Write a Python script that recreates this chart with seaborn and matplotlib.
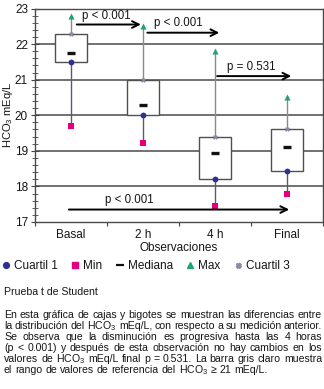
import matplotlib
matplotlib.use("Agg")
import matplotlib.pyplot as plt
from matplotlib.lines import Line2D
from matplotlib.ticker import MultipleLocator, FixedLocator, NullFormatter
import seaborn as sns
import numpy as np

# ---------------- data ----------------
categories = ["Basal", "2 h", "4 h", "Final"]
q1_vals = [21.5, 20.0, 18.22, 18.42]
q3_vals = [22.27, 21.0, 19.4, 19.6]
median_vals = [21.75, 20.3, 18.95, 19.12]
min_vals = [19.7, 19.21, 17.46, 17.8]
max_vals = [22.8, 22.52, 21.8, 20.5]

# comparisons: (start category, end category, label)
comparisons = [("Basal", "2 h", "p < 0.001"),
               ("2 h", "4 h", "p < 0.001"),
               ("4 h", "Final", "p = 0.531"),
               ("Basal", "Final", "p < 0.001")]

legend_labels = ["Cuartil 1", "Min", "Mediana", "Max", "Cuartil 3"]
paragraph_lines = [
    "En esta gráfica de cajas y bigotes se muestran las diferencias entre",
    "la distribución del HCO$_3$ mEq/L, con respecto a su medición anterior.",
    "Se observa que la disminución es progresiva hasta las 4 horas",
    "(p < 0.001) y después de esta observación no hay cambios en los",
    "valores de HCO$_3$ mEq/L final p = 0.531. La barra gris claro muestra",
    "el rango de valores de referencia del HCO$_3$ ≥ 21 mEq/L.",
]
note_text = "Prueba t de Student"

# ---------------- style ----------------
sns.set_theme(style="white")
plt.rcParams["font.family"] = ["Liberation Sans", "DejaVu Sans"]
plt.rcParams["mathtext.fontset"] = "custom"
plt.rcParams["mathtext.rm"] = "Liberation Sans"
plt.rcParams["mathtext.it"] = "Liberation Sans:italic"
plt.rcParams["mathtext.bf"] = "Liberation Sans:bold"
plt.rcParams["mathtext.default"] = "regular"

c_q1 = "#2e3192"
c_min = "#e4007c"
c_max = "#1fa472"
c_q3 = "#8c8aa8"
c_med = "#111111"
c_txt = "#151515"

W, H = 324, 389
fig = plt.figure(figsize=(W / 100, H / 100), dpi=100)
ax = fig.add_axes([35 / W, 1 - 222 / H, 288 / W, (222 - 8.5) / H])

positions = np.arange(len(categories))

# horizontal reference lines
for v in [18, 19, 20, 21, 22]:
    ax.axhline(v, color="#4a4a4a", lw=1.1, zorder=0.5)

# boxes and whiskers from the summary arrays
stats = []
for i, c in enumerate(categories):
    stats.append(dict(label=c, med=median_vals[i], q1=q1_vals[i], q3=q3_vals[i],
                      whislo=min_vals[i], whishi=max_vals[i], fliers=[]))
bp = ax.bxp(stats, positions=positions, widths=0.44, patch_artist=True,
            showfliers=False, showcaps=False,
            boxprops=dict(facecolor="white", edgecolor="#505050", lw=1.0),
            whiskerprops=dict(color="#8a8a8a", lw=1.0),
            medianprops=dict(visible=False), zorder=2)
# lower whiskers slightly darker, as in the reference
for k, wl in enumerate(bp["whiskers"]):
    if k % 2 == 0:
        wl.set_color("#5c5870")

# markers via seaborn
def pts(vals, marker, color, size, lw=0):
    sns.stripplot(x=positions, y=vals, native_scale=True, jitter=False, ax=ax,
                  marker=marker, color=color, size=size, linewidth=lw,
                  edgecolor=color, zorder=4)

pts(q1_vals, "o", c_q1, 4.2)
pts(min_vals, "s", c_min, 3.8)
pts(max_vals, "^", c_max, 4.4)
pts(q3_vals, "X", c_q3, 3.4)
ax.plot(positions, median_vals, linestyle="none", marker="_", color=c_med,
        markersize=5.5, markeredgewidth=2.4, zorder=5)

# comparison arrows
arrow_y = [22.55, 22.32, 21.1, 17.35]
text_y = [22.8, 22.58, 21.37, 17.63]
arrow_x0 = [0.08, 1.06, 2.03, -0.03]
arrow_x1 = [0.97, 2.06, 3.06, 3.03]
text_x = [0.49, 1.49, 2.51, 0.81]
for k, (a, b, lab) in enumerate(comparisons):
    ax.annotate("", xy=(arrow_x1[k], arrow_y[k]), xytext=(arrow_x0[k], arrow_y[k]),
                arrowprops=dict(arrowstyle="->", color="black", lw=1.4,
                                shrinkA=0, shrinkB=0, mutation_scale=12),
                zorder=6)
    ax.text(text_x[k], text_y[k], lab, ha="center", va="center", fontsize=8.3,
            color=c_txt, zorder=6)

# axes formatting
ax.set_xlim(-0.5, 3.5)
ax.set_ylim(17, 23)
ax.set_xticks(positions)
ax.set_xticklabels(categories, fontsize=8.5, color=c_txt)
ax.xaxis.set_minor_locator(FixedLocator([-0.5, 0.5, 1.5, 2.5, 3.5]))
ax.xaxis.set_minor_formatter(NullFormatter())
ax.tick_params(axis="x", which="major", length=0, pad=5)
ax.tick_params(axis="x", which="minor", direction="out", length=3, width=0.8,
               color="#444444", bottom=True)
ax.yaxis.set_major_locator(MultipleLocator(1))
ax.yaxis.set_minor_locator(MultipleLocator(0.2))
ax.tick_params(axis="y", which="major", direction="inout", length=6, width=0.8,
               color="#444444", labelsize=8.5, labelcolor=c_txt, left=True, pad=2)
ax.tick_params(axis="y", which="minor", direction="inout", length=4, width=0.6,
               color="#444444", left=True)
ax.set_ylabel("HCO$_3$ mEq/L", fontsize=8, color=c_txt)
ax.yaxis.set_label_coords(-19.5 / 288, 0.5)
ax.set_xlabel("Observaciones", fontsize=8.5, color=c_txt, labelpad=1)
for s in ax.spines.values():
    s.set_color("#4a4a4a")
    s.set_linewidth(1.0)
    s.set_visible(True)
ax.grid(False)

# legend
handles = [
    Line2D([], [], ls="none", marker="o", color=c_q1, markersize=4.2),
    Line2D([], [], ls="none", marker="s", color=c_min, markersize=4),
    Line2D([], [], ls="none", marker="_", color=c_med, markersize=6, markeredgewidth=1.6),
    Line2D([], [], ls="none", marker="^", color=c_max, markersize=4.6),
    Line2D([], [], ls="none", marker="X", color=c_q3, markersize=3.6),
]
fig.legend(handles, legend_labels, ncol=5, loc="center left",
           bbox_to_anchor=(0.005, 1 - 266 / H), frameon=False, fontsize=8.5,
           handlelength=0.7, handletextpad=0.35, columnspacing=1.1,
           borderpad=0, borderaxespad=0, labelcolor=c_txt)

# footnote texts
fs_par = 7.6
fig.text(4 / W, 1 - 292 / H, note_text, fontsize=fs_par, va="center", ha="left",
         color=c_txt)

fig.canvas.draw()
renderer = fig.canvas.get_renderer()
left_px, right_px = 4, 322
line_y = [315, 326, 337, 348, 359, 370]
space_nat = fs_par * 100 / 72 * 0.278
for li, line in enumerate(paragraph_lines):
    words = line.split(" ")
    ypos = 1 - line_y[li] / H
    objs = []
    widths = []
    for w in words:
        t = fig.text(0, ypos, w, fontsize=fs_par, va="center", ha="left",
                     color=c_txt)
        widths.append(t.get_window_extent(renderer).width)
        objs.append(t)
    if li < len(paragraph_lines) - 1 and len(words) > 1:
        gap = (right_px - left_px - sum(widths)) / (len(words) - 1)
        gap = max(gap, 1.5)
    else:
        gap = space_nat
    x = left_px
    for t, wd in zip(objs, widths):
        t.set_x(x / W)
        x += wd + gap

fig.savefig("out.png", dpi=100)
